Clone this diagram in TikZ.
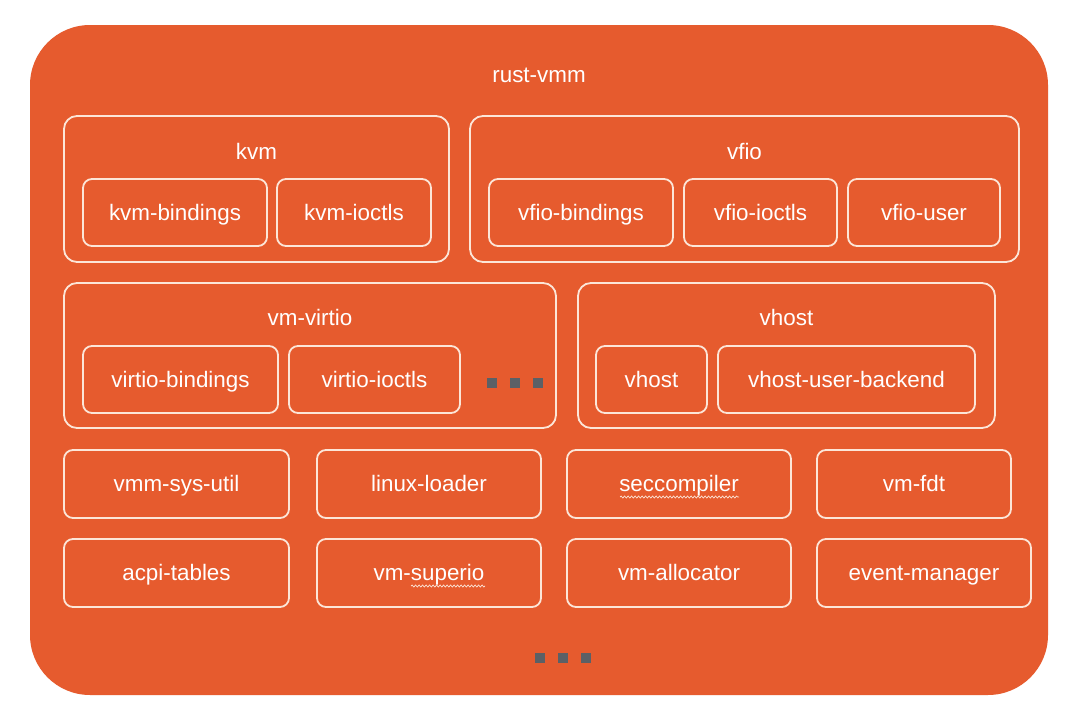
\documentclass[tikz,border=0pt]{standalone}
\usepackage{fontspec}
\setmainfont{Liberation Sans}
\usetikzlibrary{decorations.pathmorphing}
\definecolor{bgorange}{HTML}{E65B2E}
\definecolor{cream}{HTML}{FCE6D8}
\definecolor{dotgray}{HTML}{5B6066}
\tikzset{
  crate/.style={draw=cream, line width=1.8pt, rounded corners=9pt, inner sep=0pt,
    text=white, font=\fontsize{22.4}{26}\selectfont, text height=17pt, text depth=2pt},
  groupbox/.style={draw=cream, line width=1.8pt, rounded corners=13pt, inner sep=0pt},
  grouplabel/.style={text=white, inner sep=0pt, font=\fontsize{22.4}{26}\selectfont,
    text height=17pt, text depth=2pt},
  dotsq/.style={fill=dotgray, minimum size=9.5pt, inner sep=0pt, draw=none},
  squiggle/.style={draw=cream, line width=0.7pt, decorate,
    decoration={snake, amplitude=1pt, segment length=3.5pt}}
}
\newcommand{\crate}[6]{% name, x1,y1,x2,y2,text
  \node[crate, minimum width={#4-#2}, minimum height={#5-#3}] (#1) at ({(#2+#4)/2},{(#3+#5)/2}) {#6};}
\newcommand{\grp}[5]{%
  \node[groupbox, minimum width={#4-#2}, minimum height={#5-#3}] (#1) at ({(#2+#4)/2},{(#3+#5)/2}) {};}
\begin{document}
\begin{tikzpicture}[x=1pt,y=-1pt]
\useasboundingbox (0,0) rectangle (1080,720);
\fill[white] (0,0) rectangle (1080,720);
\node[fill=bgorange, rounded corners=60pt, minimum width=1018pt, minimum height=670pt, inner sep=0pt] (outer) at (539,360) {};
\node[grouplabel] (rust) at (539,75) {rust-vmm};

% kvm
\grp{kvm}{64}{116}{449}{262}
\node[grouplabel] (kvmlbl) at (256.5,152) {kvm};
\crate{kvmb}{83}{179}{267}{246}{kvm-bindings}
\crate{kvmi}{277}{179}{431}{246}{kvm-ioctls}

% vfio
\grp{vfio}{470}{116}{1019}{262}
\node[grouplabel] (vfiolbl) at (744.5,152) {vfio};
\crate{vfiob}{489}{179}{673}{246}{vfio-bindings}
\crate{vfioi}{684}{179}{837}{246}{vfio-ioctls}
\crate{vfiou}{848}{179}{1000}{246}{vfio-user}

% vm-virtio
\grp{virtio}{64}{283}{556}{428}
\node[grouplabel] (virtiolbl) at (310,318) {vm-virtio};
\crate{virtiob}{83}{346}{278}{413}{virtio-bindings}
\crate{virtioi}{289}{346}{460}{413}{virtio-ioctls}
\node[dotsq] (vd1) at (492,383) {};
\node[dotsq] (vd2) at (515,383) {};
\node[dotsq] (vd3) at (538,383) {};

% vhost
\grp{vhost}{578}{283}{995}{428}
\node[grouplabel] (vhostlbl) at (786.5,318) {vhost};
\crate{vhosti}{596}{346}{707}{413}{vhost}
\crate{vhostu}{718}{346}{975}{413}{vhost-user-backend}

% rows
\crate{sysutil}{64}{450}{289}{518}{vmm-sys-util}
\crate{loader}{317}{450}{541}{518}{linux-loader}
\crate{seccomp}{567}{450}{791}{518}{seccompiler}
\crate{fdt}{817}{450}{1011}{518}{vm-fdt}
\crate{acpi}{64}{539}{289}{607}{acpi-tables}
\crate{superio}{317}{539}{541}{607}{vm-superio}
\crate{alloc}{567}{539}{791}{607}{vm-allocator}
\crate{evmgr}{817}{539}{1031}{607}{event-manager}

\coordinate (sq1a) at (620,497);
\coordinate (sq1b) at (739,497);
\draw[squiggle] (sq1a) -- (sq1b);
\coordinate (sq2a) at (411,586);
\coordinate (sq2b) at (485,586);
\draw[squiggle] (sq2a) -- (sq2b);

\node[dotsq] (bd1) at (540,658) {};
\node[dotsq] (bd2) at (563,658) {};
\node[dotsq] (bd3) at (586,658) {};
\end{tikzpicture}
\end{document}
